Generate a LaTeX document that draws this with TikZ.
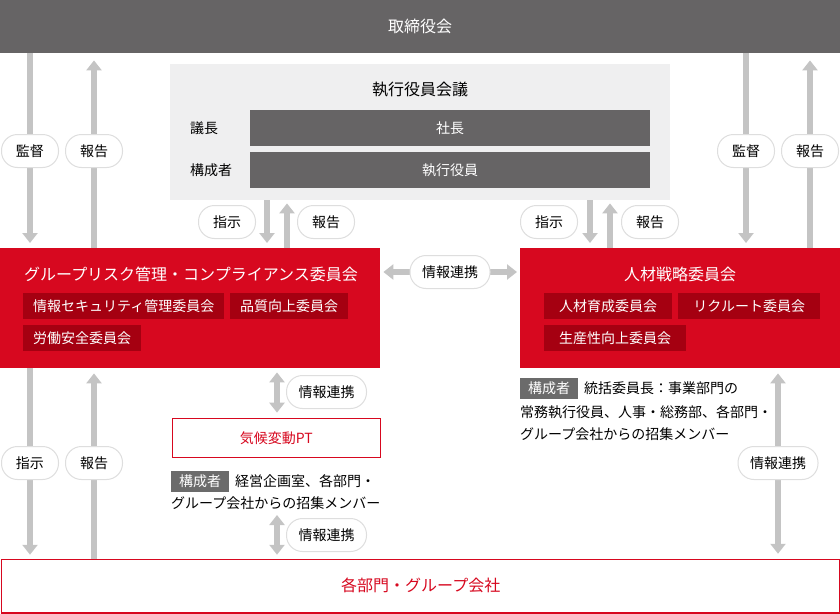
\documentclass[tikz,border=0pt]{standalone}
\usepackage{fontspec}
\setmainfont{Noto Sans CJK JP}
\usetikzlibrary{arrows.meta}
\definecolor{boardgray}{HTML}{666465}
\definecolor{execbg}{HTML}{EFEFF0}
\definecolor{mainred}{HTML}{D7081F}
\definecolor{subred}{HTML}{A50011}
\definecolor{taggray}{HTML}{6B6B6B}
\definecolor{arrgray}{HTML}{C4C4C4}
\definecolor{pillline}{HTML}{DEDEDE}
\tikzset{
  txt/.style={inner sep=0pt, text height=1.12em, text depth=0em, font=\fontsize{14}{17}\selectfont},
  bigtxt/.style={txt, font=\fontsize{16}{19}\selectfont},
  box/.style={draw=none, inner sep=0pt, anchor=north west},
  sub/.style={txt, fill=subred, text=white, minimum height=26pt, anchor=west},
  tag/.style={txt, fill=taggray, text=white, minimum height=21pt, minimum width=58pt, anchor=west},
  pill/.style={txt, fill=white, draw=pillline, line width=1pt, rounded corners=16pt, minimum height=33pt, minimum width=57pt, inner xsep=12pt},
  arr/.style={draw=arrgray, line width=6pt, -{Triangle[width=15pt,length=10pt]}},
  darr/.style={draw=arrgray, line width=6pt, {Triangle[width=15pt,length=10pt]}-{Triangle[width=15pt,length=10pt]}},
}
\begin{document}
\begin{tikzpicture}[x=1pt,y=-1pt]
\useasboundingbox (0,0) rectangle (840,613);
% boxes
\node[box, fill=boardgray, minimum width=840pt, minimum height=53pt] (board) at (0,0) {};
\node[bigtxt, text=white] at (board.center) {取締役会};
\node[box, fill=execbg, minimum width=500pt, minimum height=136pt] (exec) at (170,64) {};
\node[bigtxt] (exectitle) at (420,90) {執行役員会議};
\node[txt, anchor=west] (chair) at (190,128) {議長};
\node[box, fill=boardgray, minimum width=400pt, minimum height=36pt] (presbar) at (250,110) {};
\node[txt, text=white] at (presbar.center) {社長};
\node[txt, anchor=west] (members) at (190,170) {構成者};
\node[box, fill=boardgray, minimum width=400pt, minimum height=36pt] (offbar) at (250,152) {};
\node[txt, text=white] at (offbar.center) {執行役員};
% left red
\node[box, fill=mainred, minimum width=380pt, minimum height=120pt] (risk) at (0,248) {};
\node[bigtxt, text=white, anchor=west] (risktitle) at (24,275) {グループリスク管理・コンプライアンス委員会};
\node[sub, minimum width=201pt] (sec) at (23,306) {情報セキュリティ管理委員会};
\node[sub, minimum width=118pt] (qual) at (230,306) {品質向上委員会};
\node[sub, minimum width=118pt] (safe) at (23,338) {労働安全委員会};
% right red
\node[box, fill=mainred, minimum width=320pt, minimum height=120pt] (hr) at (520,248) {};
\node[bigtxt, text=white] (hrtitle) at (680,275) {人材戦略委員会};
\node[sub, minimum width=128pt] (dev) at (544,306) {人材育成委員会};
\node[sub, minimum width=142pt] (recr) at (678,306) {リクルート委員会};
\node[sub, minimum width=142pt] (prod) at (544,338) {生産性向上委員会};
% climate PT
\node[box, draw=mainred, line width=1.3pt, fill=white, minimum width=208pt, minimum height=39pt] (pt) at (171.65,417.65) {};
\node[txt, text=mainred] at (pt.center) {気候変動PT};
\node[tag] (pttag) at (171,481) {構成者};
\node[txt, anchor=west] (ptnote1) at (235,481) {経営企画室、各部門・};
\node[txt, anchor=west] (ptnote2) at (171,503) {グループ会社からの招集メンバー};
% HR note
\node[tag] (hrtag) at (520,388) {構成者};
\node[txt, anchor=west] (hrnote1) at (584,388) {統括委員長：事業部門の};
\node[txt, anchor=west] (hrnote2) at (520,412) {常務執行役員、人事・総務部、各部門・};
\node[txt, anchor=west] (hrnote3) at (520,434) {グループ会社からの招集メンバー};
% bottom
\node[box, draw=mainred, line width=1.5pt, fill=white, minimum width=838.5pt, minimum height=53.5pt] (dept) at (0.75,558.75) {};
\node[bigtxt, text=mainred] at (dept.center) {各部門・グループ会社};
% coordinates
\coordinate (ptlink) at (277,515);
% arrows
\draw[arr, shorten >=5pt] (board.south -| 30,0) -- (risk.north -| 30,0);
\draw[arr, shorten >=7pt] (risk.north -| 94,0) -- (board.south -| 94,0);
\draw[arr, shorten >=5pt] (board.south -| 746,0) -- (hr.north -| 746,0);
\draw[arr, shorten >=7pt] (hr.north -| 810,0) -- (board.south -| 810,0);
\draw[arr, shorten >=5pt] (exec.south -| 267,0) -- (risk.north -| 267,0);
\draw[arr, shorten >=3pt] (risk.north -| 287,0) -- (exec.south -| 287,0);
\draw[arr, shorten >=5pt] (exec.south -| 590,0) -- (hr.north -| 590,0);
\draw[arr, shorten >=3pt] (hr.north -| 610,0) -- (exec.south -| 610,0);
\draw[darr, shorten <=3pt, shorten >=3pt] (risk.east |- 0,272) -- (hr.west |- 0,272);
\draw[darr, shorten <=4pt, shorten >=5pt] (risk.south -| 277,0) -- (pt.north -| 277,0);
\draw[darr, shorten >=4pt] (ptlink) -- (dept.north -| ptlink);
\draw[arr, shorten >=4pt] (risk.south -| 30,0) -- (dept.north -| 30,0);
\draw[arr, shorten >=5pt] (dept.north -| 94,0) -- (risk.south -| 94,0);
\draw[darr, shorten <=5pt, shorten >=5pt] (hr.south -| 778,0) -- (dept.north -| 778,0);
% pills
\node[pill] (p1) at (30,151) {監督};
\node[pill] (p2) at (94,151) {報告};
\node[pill] (p3) at (746,151) {監督};
\node[pill] (p4) at (810,151) {報告};
\node[pill] (p5) at (227,222) {指示};
\node[pill] (p6) at (326,222) {報告};
\node[pill] (p7) at (549,222) {指示};
\node[pill] (p8) at (650,222) {報告};
\node[pill] (p9) at (450,272) {情報連携};
\node[pill] (p10) at (326.5,392) {情報連携};
\node[pill] (p11) at (326.5,535) {情報連携};
\node[pill] (p12) at (30,463) {指示};
\node[pill] (p13) at (94,463) {報告};
\node[pill] (p14) at (778,463) {情報連携};
\end{tikzpicture}
\end{document}
